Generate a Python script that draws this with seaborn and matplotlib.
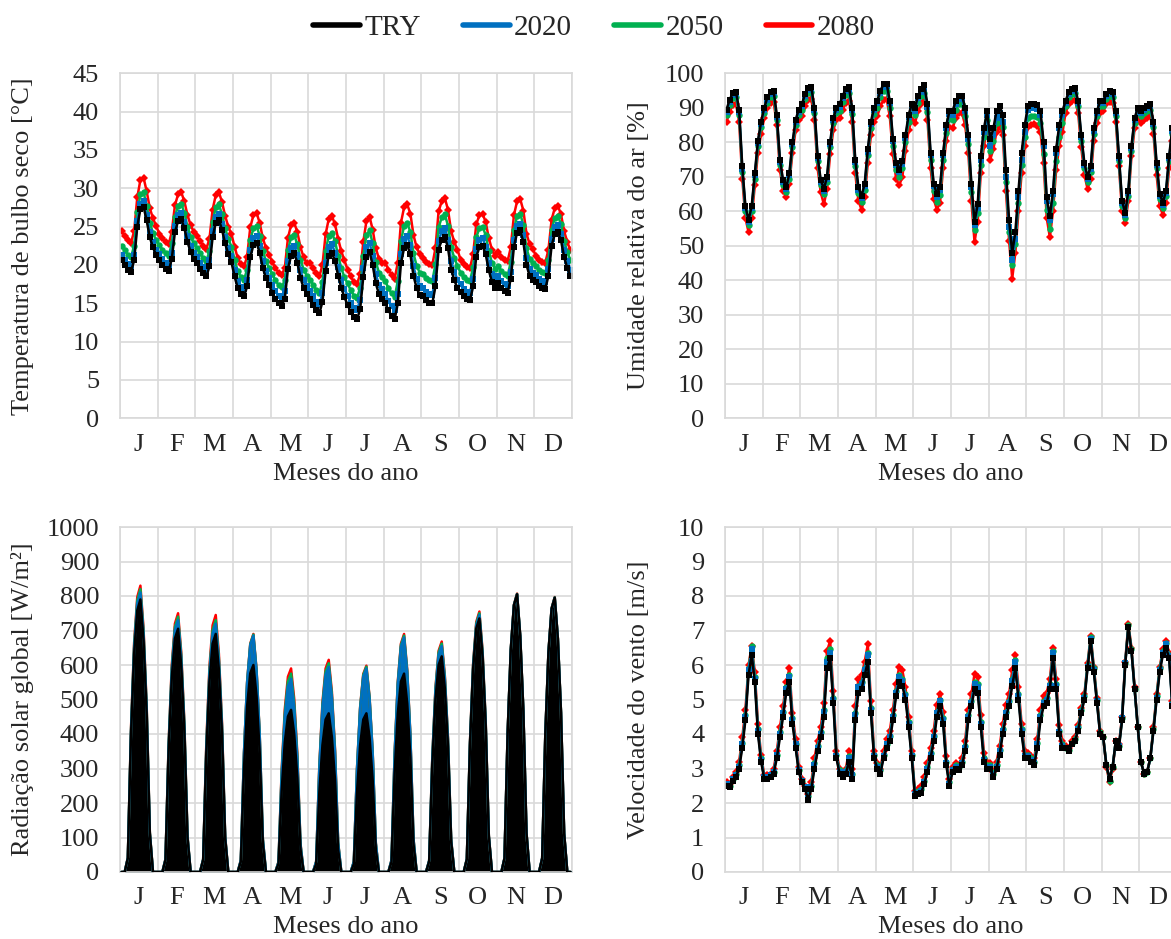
import numpy as np
import matplotlib
matplotlib.use("Agg")
import matplotlib.pyplot as plt
from matplotlib.lines import Line2D
import seaborn as sns

months = ["J", "F", "M", "A", "M", "J", "J", "A", "S", "O", "N", "D"]
series_names = ["TRY", "2020", "2050", "2080"]

# ---- Dry bulb temperature [°C] : 12 months x 12 two-hourly values ----
temp_try = [
    [20.6, 20.0, 19.4, 19.1, 20.6, 25.0, 27.3, 27.6, 25.8, 23.6, 22.3, 21.3],
    [20.6, 20.0, 19.5, 19.2, 20.8, 24.3, 25.7, 26.0, 24.8, 23.0, 21.7, 20.8],
    [20.2, 19.5, 18.9, 18.5, 19.8, 23.6, 25.5, 25.9, 24.6, 22.8, 21.4, 20.4],
    [18.5, 17.0, 16.2, 15.9, 17.2, 21.0, 22.6, 22.9, 21.6, 19.6, 18.3, 17.4],
    [16.4, 15.6, 15.0, 14.7, 15.6, 19.5, 21.2, 21.5, 20.3, 18.3, 17.0, 16.2],
    [15.5, 14.8, 14.1, 13.7, 15.2, 19.2, 21.2, 21.6, 20.5, 18.6, 17.0, 15.8],
    [14.8, 13.9, 13.2, 12.9, 14.2, 18.4, 21.1, 21.7, 20.0, 17.6, 16.2, 15.6],
    [15.0, 14.1, 13.4, 12.9, 15.0, 20.2, 22.2, 22.6, 21.4, 18.6, 17.0, 16.1],
    [15.9, 15.4, 15.1, 15.0, 17.2, 22.0, 23.3, 23.7, 22.2, 19.4, 18.0, 17.0],
    [16.5, 15.9, 15.5, 15.4, 17.2, 21.1, 22.3, 22.5, 21.4, 19.3, 17.8, 17.0],
    [17.6, 17.0, 16.6, 16.4, 18.2, 22.4, 24.2, 24.5, 23.0, 20.0, 18.6, 18.0],
    [17.8, 17.3, 17.0, 16.9, 18.6, 22.5, 24.0, 24.3, 23.2, 21.0, 19.6, 18.5],
]
temp_2020 = [
    [21.3, 20.7, 20.1, 19.8, 21.3, 25.7, 28.0, 28.3, 26.5, 24.3, 23.0, 22.0],
    [21.4, 20.8, 20.3, 20.0, 21.6, 25.1, 26.5, 26.8, 25.6, 23.8, 22.5, 21.6],
    [21.0, 20.3, 19.7, 19.3, 20.6, 24.4, 26.3, 26.7, 25.4, 23.6, 22.2, 21.2],
    [19.4, 17.9, 17.1, 16.8, 18.1, 21.9, 23.5, 23.8, 22.5, 20.5, 19.2, 18.3],
    [17.4, 16.6, 16.0, 15.7, 16.6, 20.5, 22.2, 22.5, 21.3, 19.3, 18.0, 17.2],
    [16.6, 15.9, 15.2, 14.8, 16.3, 20.3, 22.3, 22.7, 21.6, 19.7, 18.1, 16.9],
    [16.0, 15.1, 14.4, 14.1, 15.4, 19.6, 22.3, 22.9, 21.2, 18.8, 17.4, 16.8],
    [16.2, 15.3, 14.6, 14.1, 16.2, 21.4, 23.4, 23.8, 22.6, 19.8, 18.2, 17.3],
    [17.0, 16.5, 16.2, 16.1, 18.3, 23.1, 24.4, 24.8, 23.3, 20.5, 19.1, 18.1],
    [17.5, 16.9, 16.5, 16.4, 18.2, 22.1, 23.3, 23.5, 22.4, 20.3, 18.8, 18.0],
    [18.5, 17.9, 17.5, 17.3, 19.1, 23.3, 25.1, 25.4, 23.9, 20.9, 19.5, 18.9],
    [18.7, 18.2, 17.9, 17.8, 19.5, 23.4, 24.9, 25.2, 24.1, 21.9, 20.5, 19.4],
]
temp_2050 = [
    [22.5, 21.9, 21.3, 21.0, 22.5, 26.9, 29.2, 29.5, 27.7, 25.5, 24.2, 23.2],
    [22.6, 22.0, 21.5, 21.2, 22.8, 26.3, 27.7, 28.0, 26.8, 25.0, 23.7, 22.8],
    [22.2, 21.5, 20.9, 20.5, 21.8, 25.6, 27.5, 27.9, 26.6, 24.8, 23.4, 22.4],
    [20.7, 19.2, 18.4, 18.1, 19.4, 23.2, 24.8, 25.1, 23.8, 21.8, 20.5, 19.6],
    [18.8, 18.0, 17.4, 17.1, 18.0, 21.9, 23.6, 23.9, 22.7, 20.7, 19.4, 18.6],
    [18.1, 17.4, 16.7, 16.3, 17.8, 21.8, 23.8, 24.2, 23.1, 21.2, 19.6, 18.4],
    [17.6, 16.7, 16.0, 15.7, 17.0, 21.2, 23.9, 24.5, 22.8, 20.4, 19.0, 18.4],
    [17.9, 17.0, 16.3, 15.8, 17.9, 23.1, 25.1, 25.5, 24.3, 21.5, 19.9, 19.0],
    [18.8, 18.3, 18.0, 17.9, 20.1, 24.9, 26.2, 26.6, 25.1, 22.3, 20.9, 19.9],
    [19.0, 18.4, 18.0, 17.9, 19.7, 23.6, 24.8, 25.0, 23.9, 21.8, 20.3, 19.5],
    [19.8, 19.2, 18.8, 18.6, 20.4, 24.6, 26.4, 26.7, 25.2, 22.2, 20.8, 20.2],
    [19.9, 19.4, 19.1, 19.0, 20.7, 24.6, 26.1, 26.4, 25.3, 23.1, 21.7, 20.6],
]
temp_2080 = [
    [24.4, 23.8, 23.2, 22.9, 24.4, 28.8, 31.1, 31.4, 29.6, 27.4, 26.1, 25.1],
    [24.1, 23.5, 23.0, 22.7, 24.3, 27.8, 29.2, 29.5, 28.3, 26.5, 25.2, 24.3],
    [23.8, 23.1, 22.5, 22.1, 23.4, 27.2, 29.1, 29.5, 28.2, 26.4, 25.0, 24.0],
    [22.4, 20.9, 20.1, 19.8, 21.1, 24.9, 26.5, 26.8, 25.5, 23.5, 22.2, 21.3],
    [20.4, 19.6, 19.0, 18.7, 19.6, 23.5, 25.2, 25.5, 24.3, 22.3, 21.0, 20.2],
    [20.3, 19.6, 18.9, 18.5, 20.0, 24.0, 26.0, 26.4, 25.3, 23.4, 21.8, 20.6],
    [19.4, 18.5, 17.8, 17.5, 18.8, 23.0, 25.7, 26.3, 24.6, 22.2, 20.8, 20.2],
    [20.3, 19.4, 18.7, 18.2, 20.3, 25.5, 27.5, 27.9, 26.7, 23.9, 22.3, 21.4],
    [20.9, 20.4, 20.1, 20.0, 22.2, 27.0, 28.3, 28.7, 27.2, 24.4, 23.0, 22.0],
    [20.7, 20.1, 19.7, 19.6, 21.4, 25.3, 26.5, 26.7, 25.6, 23.5, 22.0, 21.2],
    [21.7, 21.1, 20.7, 20.5, 22.3, 26.5, 28.3, 28.6, 27.1, 24.1, 22.7, 22.1],
    [21.2, 20.7, 20.4, 20.3, 22.0, 25.9, 27.4, 27.7, 26.6, 24.4, 23.0, 21.9],
]

# ---- Relative humidity [%] ----
hum_try = [
    [89.5, 92.4, 94.3, 94.6, 89.5, 73.0, 61.5, 57.5, 61.5, 71.0, 80.5, 86.0],
    [90.0, 93.0, 94.5, 94.8, 88.0, 75.0, 69.0, 67.0, 71.0, 80.0, 86.5, 89.5],
    [91.0, 94.0, 95.8, 96.0, 90.0, 76.0, 69.0, 66.5, 70.0, 80.0, 87.0, 90.0],
    [91.0, 93.5, 95.5, 96.0, 90.0, 75.0, 67.0, 64.5, 68.0, 78.0, 86.0, 90.0],
    [92.0, 95.0, 96.8, 97.0, 92.0, 81.0, 74.0, 72.0, 74.5, 82.0, 88.0, 91.0],
    [90.0, 93.5, 95.5, 96.5, 91.0, 77.0, 68.0, 65.0, 67.0, 77.0, 85.0, 89.0],
    [89.0, 92.0, 93.5, 93.5, 90.0, 82.0, 68.0, 57.0, 62.0, 76.0, 84.0, 89.0],
    [81.0, 84.0, 89.0, 90.5, 88.0, 72.0, 57.5, 48.0, 54.0, 66.0, 77.0, 85.0],
    [90.5, 91.0, 91.2, 90.7, 89.0, 80.0, 64.0, 58.5, 66.0, 78.0, 85.0, 89.0],
    [92.0, 94.5, 95.5, 95.8, 92.0, 82.0, 74.0, 70.0, 73.0, 84.0, 89.0, 92.0],
    [92.0, 94.0, 94.8, 94.5, 89.0, 76.0, 63.0, 59.5, 66.0, 79.0, 87.0, 90.0],
    [89.0, 90.0, 90.5, 91.0, 86.0, 74.0, 65.0, 62.5, 66.0, 76.0, 84.0, 88.0],
]
hum_2020 = [
    [88.9, 91.8, 93.7, 94.0, 88.9, 72.4, 60.9, 56.9, 60.9, 70.4, 79.9, 85.4],
    [89.4, 92.4, 93.9, 94.2, 87.4, 74.4, 68.4, 66.4, 70.4, 79.4, 85.9, 88.9],
    [90.4, 93.4, 95.2, 95.4, 89.4, 75.4, 68.4, 65.9, 69.4, 79.4, 86.4, 89.4],
    [90.3, 92.8, 94.8, 95.3, 89.3, 74.3, 66.3, 63.8, 67.3, 77.3, 85.3, 89.3],
    [91.3, 94.3, 96.1, 96.3, 91.3, 80.3, 73.3, 71.3, 73.8, 81.3, 87.3, 90.3],
    [89.2, 92.7, 94.7, 95.7, 90.2, 76.2, 67.2, 64.2, 66.2, 76.2, 84.2, 88.2],
    [88.0, 91.0, 92.5, 92.5, 89.0, 81.0, 67.0, 56.0, 61.0, 75.0, 83.0, 88.0],
    [79.0, 82.0, 87.0, 88.5, 86.0, 70.0, 55.5, 46.0, 52.0, 64.0, 75.0, 83.0],
    [89.5, 90.0, 90.2, 89.7, 88.0, 79.0, 63.0, 57.5, 65.0, 77.0, 84.0, 88.0],
    [91.4, 93.9, 94.9, 95.2, 91.4, 81.4, 73.4, 69.4, 72.4, 83.4, 88.4, 91.4],
    [91.4, 93.4, 94.2, 93.9, 88.4, 75.4, 62.4, 58.9, 65.4, 78.4, 86.4, 89.4],
    [88.4, 89.4, 89.9, 90.4, 85.4, 73.4, 64.4, 61.9, 65.4, 75.4, 83.4, 87.4],
]
hum_2050 = [
    [88.0, 90.9, 92.8, 93.1, 88.0, 71.5, 60.0, 56.0, 60.0, 69.5, 79.0, 84.5],
    [88.5, 91.5, 93.0, 93.3, 86.5, 73.5, 67.5, 65.5, 69.5, 78.5, 85.0, 88.0],
    [89.5, 92.5, 94.3, 94.5, 88.5, 74.5, 67.5, 65.0, 68.5, 78.5, 85.5, 88.5],
    [89.2, 91.7, 93.7, 94.2, 88.2, 73.2, 65.2, 62.7, 66.2, 76.2, 84.2, 88.2],
    [90.0, 93.0, 94.8, 95.0, 90.0, 79.0, 72.0, 70.0, 72.5, 80.0, 86.0, 89.0],
    [87.8, 91.3, 93.3, 94.3, 88.8, 74.8, 65.8, 62.8, 64.8, 74.8, 82.8, 86.8],
    [86.5, 89.5, 91.0, 91.0, 87.5, 79.5, 65.5, 54.5, 59.5, 73.5, 81.5, 86.5],
    [77.5, 80.5, 85.5, 87.0, 84.5, 68.5, 54.0, 44.5, 50.5, 62.5, 73.5, 81.5],
    [87.0, 87.5, 87.7, 87.2, 85.5, 76.5, 60.5, 55.0, 62.5, 74.5, 81.5, 85.5],
    [90.5, 93.0, 94.0, 94.3, 90.5, 80.5, 72.5, 68.5, 71.5, 82.5, 87.5, 90.5],
    [90.5, 92.5, 93.3, 93.0, 87.5, 74.5, 61.5, 58.0, 64.5, 77.5, 85.5, 88.5],
    [87.5, 88.5, 89.0, 89.5, 84.5, 72.5, 63.5, 61.0, 64.5, 74.5, 82.5, 86.5],
]
hum_2080 = [
    [86.0, 88.9, 90.8, 91.1, 86.0, 69.5, 58.0, 54.0, 58.0, 67.5, 77.0, 82.5],
    [87.0, 90.0, 91.5, 91.8, 85.0, 72.0, 66.0, 64.0, 68.0, 77.0, 83.5, 86.5],
    [87.5, 90.5, 92.3, 92.5, 86.5, 72.5, 65.5, 62.0, 66.5, 76.5, 83.5, 86.5],
    [87.0, 89.5, 91.5, 92.0, 86.0, 71.0, 63.0, 60.5, 64.0, 74.0, 82.0, 86.0],
    [87.5, 90.5, 92.3, 92.5, 87.5, 76.5, 69.5, 67.5, 70.0, 77.5, 83.5, 86.5],
    [85.5, 89.0, 91.0, 92.0, 86.5, 72.5, 63.5, 60.5, 62.5, 72.5, 80.5, 84.5],
    [84.0, 87.0, 88.5, 88.5, 85.0, 77.0, 63.0, 51.0, 57.0, 71.0, 79.0, 84.0],
    [75.0, 78.0, 83.0, 84.5, 82.0, 66.0, 51.5, 40.5, 48.0, 60.0, 71.0, 79.0],
    [84.5, 85.0, 85.2, 84.7, 83.0, 74.0, 58.0, 52.5, 60.0, 72.0, 79.0, 83.0],
    [88.5, 91.0, 92.0, 92.3, 88.5, 78.5, 70.5, 66.5, 69.5, 80.5, 85.5, 88.5],
    [89.0, 91.0, 91.8, 91.5, 86.0, 73.0, 60.0, 56.5, 63.0, 76.0, 84.0, 87.0],
    [85.5, 86.5, 87.0, 87.5, 82.5, 70.5, 61.5, 59.0, 62.5, 72.5, 80.5, 84.5],
]

# ---- Global solar radiation [W/m²] ----
rad_try = [
    [0, 0, 40, 395, 632, 758, 790, 672, 458, 111, 0, 0],
    [0, 0, 35, 353, 564, 677, 705, 599, 409, 99, 0, 0],
    [0, 0, 35, 345, 552, 662, 690, 587, 400, 97, 0, 0],
    [0, 0, 30, 300, 480, 576, 600, 510, 348, 84, 0, 0],
    [0, 0, 24, 235, 376, 451, 470, 400, 273, 66, 0, 0],
    [0, 0, 23, 230, 368, 442, 460, 391, 267, 64, 0, 0],
    [0, 0, 23, 230, 368, 442, 460, 391, 267, 64, 0, 0],
    [0, 0, 29, 288, 460, 552, 575, 489, 334, 81, 0, 0],
    [0, 0, 31, 313, 500, 600, 625, 531, 363, 88, 0, 0],
    [0, 0, 37, 368, 588, 706, 735, 625, 426, 103, 0, 0],
    [0, 0, 40, 403, 644, 773, 805, 684, 467, 113, 0, 0],
    [0, 0, 40, 398, 636, 763, 795, 676, 461, 111, 0, 0],
]
rad_2020 = [
    [0, 0, 41, 405, 648, 778, 810, 689, 470, 113, 0, 0],
    [0, 0, 37, 365, 584, 701, 730, 621, 423, 102, 0, 0],
    [0, 0, 36, 360, 576, 691, 720, 612, 418, 101, 0, 0],
    [0, 0, 34, 343, 548, 658, 685, 582, 397, 96, 0, 0],
    [0, 0, 28, 280, 448, 538, 560, 476, 325, 78, 0, 0],
    [0, 0, 30, 298, 476, 571, 595, 506, 345, 83, 0, 0],
    [0, 0, 30, 295, 472, 566, 590, 502, 342, 83, 0, 0],
    [0, 0, 34, 340, 544, 653, 680, 578, 394, 95, 0, 0],
    [0, 0, 33, 328, 524, 629, 655, 557, 380, 92, 0, 0],
    [0, 0, 37, 373, 596, 715, 745, 633, 432, 104, 0, 0],
    [0, 0, 40, 403, 644, 773, 805, 684, 467, 113, 0, 0],
    [0, 0, 40, 398, 636, 763, 795, 676, 461, 111, 0, 0],
]
rad_2050 = [
    [0, 0, 41, 410, 656, 787, 820, 697, 476, 115, 0, 0],
    [0, 0, 37, 370, 592, 710, 740, 629, 429, 104, 0, 0],
    [0, 0, 37, 365, 584, 701, 730, 621, 423, 102, 0, 0],
    [0, 0, 34, 344, 550, 660, 688, 585, 399, 96, 0, 0],
    [0, 0, 29, 288, 460, 552, 575, 489, 334, 81, 0, 0],
    [0, 0, 30, 303, 484, 581, 605, 514, 351, 85, 0, 0],
    [0, 0, 30, 298, 476, 571, 595, 506, 345, 83, 0, 0],
    [0, 0, 34, 343, 548, 658, 685, 582, 397, 96, 0, 0],
    [0, 0, 33, 331, 530, 636, 662, 563, 384, 93, 0, 0],
    [0, 0, 38, 375, 600, 720, 750, 638, 435, 105, 0, 0],
    [0, 0, 40, 403, 645, 774, 806, 685, 467, 113, 0, 0],
    [0, 0, 40, 398, 637, 764, 796, 677, 462, 111, 0, 0],
]
rad_2080 = [
    [0, 0, 42, 415, 664, 797, 830, 706, 481, 116, 0, 0],
    [0, 0, 38, 375, 600, 720, 750, 638, 435, 105, 0, 0],
    [0, 0, 37, 373, 596, 715, 745, 633, 432, 104, 0, 0],
    [0, 0, 35, 345, 552, 662, 690, 587, 400, 97, 0, 0],
    [0, 0, 30, 295, 472, 566, 590, 502, 342, 83, 0, 0],
    [0, 0, 31, 308, 492, 590, 615, 523, 357, 86, 0, 0],
    [0, 0, 30, 299, 478, 574, 598, 508, 347, 84, 0, 0],
    [0, 0, 35, 345, 552, 662, 690, 587, 400, 97, 0, 0],
    [0, 0, 33, 334, 534, 641, 668, 568, 387, 94, 0, 0],
    [0, 0, 38, 378, 604, 725, 755, 642, 438, 106, 0, 0],
    [0, 0, 40, 404, 646, 775, 807, 686, 468, 113, 0, 0],
    [0, 0, 40, 399, 638, 765, 797, 677, 462, 112, 0, 0],
]

# ---- Wind speed [m/s] ----
wind_try = [
    [2.5, 2.45, 2.65, 2.75, 3.0, 3.6, 4.4, 5.7, 6.3, 5.5, 4.0, 3.2],
    [2.7, 2.7, 2.75, 2.85, 3.3, 3.9, 4.5, 5.2, 5.5, 4.3, 3.6, 2.9],
    [2.6, 2.4, 2.1, 2.4, 3.0, 3.5, 3.9, 4.5, 5.9, 6.2, 4.9, 3.3],
    [2.85, 2.75, 2.85, 3.2, 2.7, 4.4, 5.2, 5.3, 5.7, 6.1, 4.6, 3.3],
    [3.0, 2.85, 3.3, 3.6, 3.8, 4.4, 5.1, 5.5, 5.4, 5.0, 4.2, 3.3],
    [2.2, 2.25, 2.3, 2.55, 2.9, 3.3, 3.8, 4.5, 4.8, 4.3, 3.1, 2.5],
    [2.9, 3.0, 2.95, 3.1, 3.5, 4.4, 4.8, 5.3, 5.2, 4.2, 3.2, 3.0],
    [3.0, 2.75, 3.0, 3.4, 4.0, 4.5, 4.8, 5.4, 5.9, 5.0, 4.0, 3.3],
    [3.3, 3.2, 3.1, 3.6, 4.4, 4.8, 4.9, 5.3, 6.2, 5.3, 4.0, 3.6],
    [3.6, 3.5, 3.7, 3.8, 4.1, 4.6, 5.0, 5.9, 6.7, 5.8, 4.9, 4.0],
    [3.9, 3.1, 2.7, 3.05, 3.8, 3.6, 4.4, 6.0, 7.1, 6.4, 5.3, 4.2],
    [3.2, 2.85, 2.9, 3.3, 4.1, 5.0, 5.8, 6.3, 6.5, 6.2, 4.8, 3.8],
]
wind_2020 = [
    [2.55, 2.5, 2.7, 2.8, 3.05, 3.7, 4.5, 5.85, 6.45, 5.6, 4.1, 3.25],
    [2.75, 2.75, 2.8, 2.9, 3.4, 4.0, 4.6, 5.3, 5.65, 4.4, 3.7, 2.95],
    [2.65, 2.45, 2.15, 2.45, 3.1, 3.6, 4.0, 4.65, 6.1, 6.35, 5.0, 3.35],
    [2.9, 2.8, 2.9, 3.3, 2.8, 4.55, 5.35, 5.45, 5.85, 6.3, 4.7, 3.35],
    [3.05, 2.9, 3.35, 3.7, 3.9, 4.5, 5.2, 5.65, 5.55, 5.1, 4.3, 3.35],
    [2.25, 2.3, 2.35, 2.6, 3.0, 3.4, 3.9, 4.6, 4.95, 4.4, 3.15, 2.55],
    [2.95, 3.05, 3.0, 3.15, 3.6, 4.5, 4.9, 5.45, 5.35, 4.3, 3.25, 3.05],
    [3.05, 2.8, 3.05, 3.5, 4.1, 4.6, 4.9, 5.55, 6.1, 5.1, 4.1, 3.35],
    [3.35, 3.25, 3.15, 3.7, 4.5, 4.9, 5.0, 5.4, 6.35, 5.4, 4.05, 3.65],
    [3.6, 3.5, 3.7, 3.8, 4.15, 4.65, 5.05, 5.95, 6.75, 5.85, 4.95, 4.0],
    [3.9, 3.1, 2.7, 3.05, 3.8, 3.65, 4.45, 6.05, 7.1, 6.4, 5.3, 4.2],
    [3.2, 2.85, 2.9, 3.3, 4.1, 5.05, 5.85, 6.35, 6.6, 6.25, 4.85, 3.8],
]
wind_2050 = [
    [2.55, 2.5, 2.7, 2.85, 3.1, 3.75, 4.55, 5.9, 6.55, 5.65, 4.15, 3.3],
    [2.75, 2.75, 2.8, 2.9, 3.4, 4.05, 4.65, 5.35, 5.7, 4.45, 3.7, 2.95],
    [2.65, 2.45, 2.2, 2.5, 3.15, 3.65, 4.05, 4.7, 6.2, 6.45, 5.05, 3.4],
    [2.95, 2.85, 2.95, 3.35, 2.85, 4.6, 5.4, 5.5, 5.9, 6.35, 4.75, 3.4],
    [3.1, 2.95, 3.4, 3.7, 3.95, 4.55, 5.25, 5.7, 5.6, 5.15, 4.35, 3.4],
    [2.3, 2.35, 2.4, 2.65, 3.05, 3.45, 3.95, 4.65, 5.0, 4.45, 3.2, 2.6],
    [3.0, 3.1, 3.05, 3.2, 3.65, 4.55, 4.95, 5.5, 5.45, 4.35, 3.3, 3.1],
    [3.1, 2.85, 3.1, 3.55, 4.15, 4.65, 4.95, 5.6, 6.15, 5.15, 4.15, 3.4],
    [3.4, 3.3, 3.2, 3.75, 4.55, 4.95, 5.05, 5.45, 6.4, 5.45, 4.1, 3.7],
    [3.6, 3.55, 3.75, 3.85, 4.2, 4.7, 5.1, 6.0, 6.8, 5.9, 5.0, 4.05],
    [3.9, 3.1, 2.65, 3.05, 3.8, 3.65, 4.45, 6.05, 7.15, 6.45, 5.3, 4.2],
    [3.2, 2.85, 2.9, 3.3, 4.15, 5.1, 5.9, 6.4, 6.65, 6.3, 4.9, 3.85],
]
wind_2080 = [
    [2.6, 2.55, 2.75, 2.9, 3.2, 3.9, 4.7, 6.0, 6.55, 5.8, 4.3, 3.4],
    [2.8, 2.8, 2.85, 3.0, 3.5, 4.2, 4.8, 5.5, 5.9, 4.6, 3.85, 3.05],
    [2.7, 2.5, 2.25, 2.6, 3.3, 3.8, 4.2, 4.9, 6.4, 6.7, 5.25, 3.5],
    [3.0, 2.9, 3.0, 3.5, 3.0, 4.8, 5.6, 5.7, 6.1, 6.6, 4.95, 3.5],
    [3.15, 3.0, 3.5, 3.85, 4.1, 4.7, 5.45, 5.95, 5.85, 5.35, 4.5, 3.5],
    [2.35, 2.4, 2.5, 2.75, 3.15, 3.6, 4.1, 4.85, 5.15, 4.65, 3.35, 2.7],
    [3.05, 3.15, 3.1, 3.3, 3.8, 4.7, 5.15, 5.75, 5.65, 4.55, 3.45, 3.2],
    [3.15, 2.9, 3.2, 3.65, 4.3, 4.85, 5.15, 5.85, 6.3, 5.35, 4.3, 3.5],
    [3.45, 3.35, 3.3, 3.85, 4.7, 5.1, 5.2, 5.6, 6.5, 5.6, 4.25, 3.8],
    [3.65, 3.6, 3.8, 3.9, 4.25, 4.75, 5.15, 6.05, 6.85, 5.95, 5.05, 4.1],
    [3.9, 3.05, 2.6, 3.0, 3.8, 3.7, 4.5, 6.1, 7.2, 6.5, 5.35, 4.2],
    [3.2, 2.85, 2.9, 3.3, 4.2, 5.15, 5.95, 6.45, 6.7, 6.35, 4.95, 3.85],
]

# ---------------- styling ----------------
sns.set_theme(style="white")
plt.rcParams["font.family"] = ["Liberation Serif", "DejaVu Serif"]
plt.rcParams["mathtext.fontset"] = "stix"

colors = {"TRY": "#000000", "2020": "#0070C0", "2050": "#00B050", "2080": "#FF0000"}
markers = {"TRY": "s", "2020": "s", "2050": "o", "2080": "D"}
msizes = {"TRY": 4.6, "2020": 4.6, "2050": 4.6, "2080": 4.3}
GRID = "#d9d9d9"
FS = 19

fig = plt.figure(figsize=(11.71, 9.39), dpi=100)
W, H = 1171.0, 939.0

def axes_px(x0, y_top, y_bot, width=452.0):
    return fig.add_axes([x0 / W, (H - y_bot) / H, width / W, (y_bot - y_top) / H])

ax_t = axes_px(120, 73.3, 418.3)
ax_h = axes_px(725, 73.3, 418.3)
ax_r = axes_px(120, 527.0, 872.0)
ax_w = axes_px(725, 527.0, 872.0)

def flat(rows):
    return [v for row in rows for v in row]

npts = sum(len(r) for r in temp_try)
xs = np.arange(npts) + 0.5
per_month = len(temp_try[0])

def style_axes(ax, ymax, ystep, ylabel, xlab_coord):
    ax.set_xlim(0, npts)
    ax.set_ylim(0, ymax)
    ax.set_xticks(np.arange(0, npts + 1, per_month))
    ax.set_xticklabels([])
    ax.set_xticks(np.arange(len(months)) * per_month + per_month / 2, minor=True)
    ax.set_xticklabels(months, minor=True, fontsize=FS)
    ticks = np.arange(0, ymax + ystep / 2, ystep)
    ax.set_yticks(ticks)
    ax.set_yticklabels([f"{v:g}" for v in ticks], fontsize=FS)
    ax.tick_params(axis="both", which="both", length=0)
    ax.tick_params(axis="y", pad=15)
    ax.tick_params(axis="x", which="minor", pad=11)
    ax.grid(True, which="major", color=GRID, linewidth=1.2)
    ax.set_axisbelow(True)
    for s in ax.spines.values():
        s.set_color(GRID)
        s.set_linewidth(1.2)
    ax.set_xlabel("Meses do ano", fontsize=FS, labelpad=5)
    ax.set_ylabel(ylabel, fontsize=FS)
    ax.yaxis.set_label_coords(xlab_coord, 0.5)

def line_panel(ax, data):
    for name in ["2080", "2050", "2020", "TRY"]:
        sns.lineplot(x=xs, y=flat(data[name]), ax=ax, color=colors[name],
                     linewidth=1.8, marker=markers[name], markersize=msizes[name],
                     markeredgewidth=0, markeredgecolor=colors[name],
                     estimator=None, sort=False, legend=False)

line_panel(ax_t, {"TRY": temp_try, "2020": temp_2020, "2050": temp_2050, "2080": temp_2080})
style_axes(ax_t, 45, 5, "Temperatura de bulbo seco [°C]", -0.19)

line_panel(ax_h, {"TRY": hum_try, "2020": hum_2020, "2050": hum_2050, "2080": hum_2080})
style_axes(ax_h, 100, 10, "Umidade relativa do ar [%]", -0.165)

rad = {"TRY": rad_try, "2020": rad_2020, "2050": rad_2050, "2080": rad_2080}
for name in ["2080", "2050", "2020", "TRY"]:
    yv = flat(rad[name])
    ax_r.fill_between(xs, 0, yv, color=colors[name], linewidth=0, zorder=2)
    sns.lineplot(x=xs, y=yv, ax=ax_r, color=colors[name], linewidth=1.8,
                 estimator=None, sort=False, legend=False, zorder=3)
style_axes(ax_r, 1000, 100, "Radiação solar global [W/m²]", -0.19)

line_panel(ax_w, {"TRY": wind_try, "2020": wind_2020, "2050": wind_2050, "2080": wind_2080})
style_axes(ax_w, 10, 1, "Velocidade do vento [m/s]", -0.165)

handles = [Line2D([0], [0], color=colors[n], linewidth=4, solid_capstyle="round") for n in series_names]
fig.legend(handles, series_names, loc="center", bbox_to_anchor=(594 / W, 1 - 28 / H),
           ncol=4, frameon=False, fontsize=21, handlelength=1.6, handletextpad=0.15,
           columnspacing=1.45)

fig.savefig("out.png", dpi=100)
